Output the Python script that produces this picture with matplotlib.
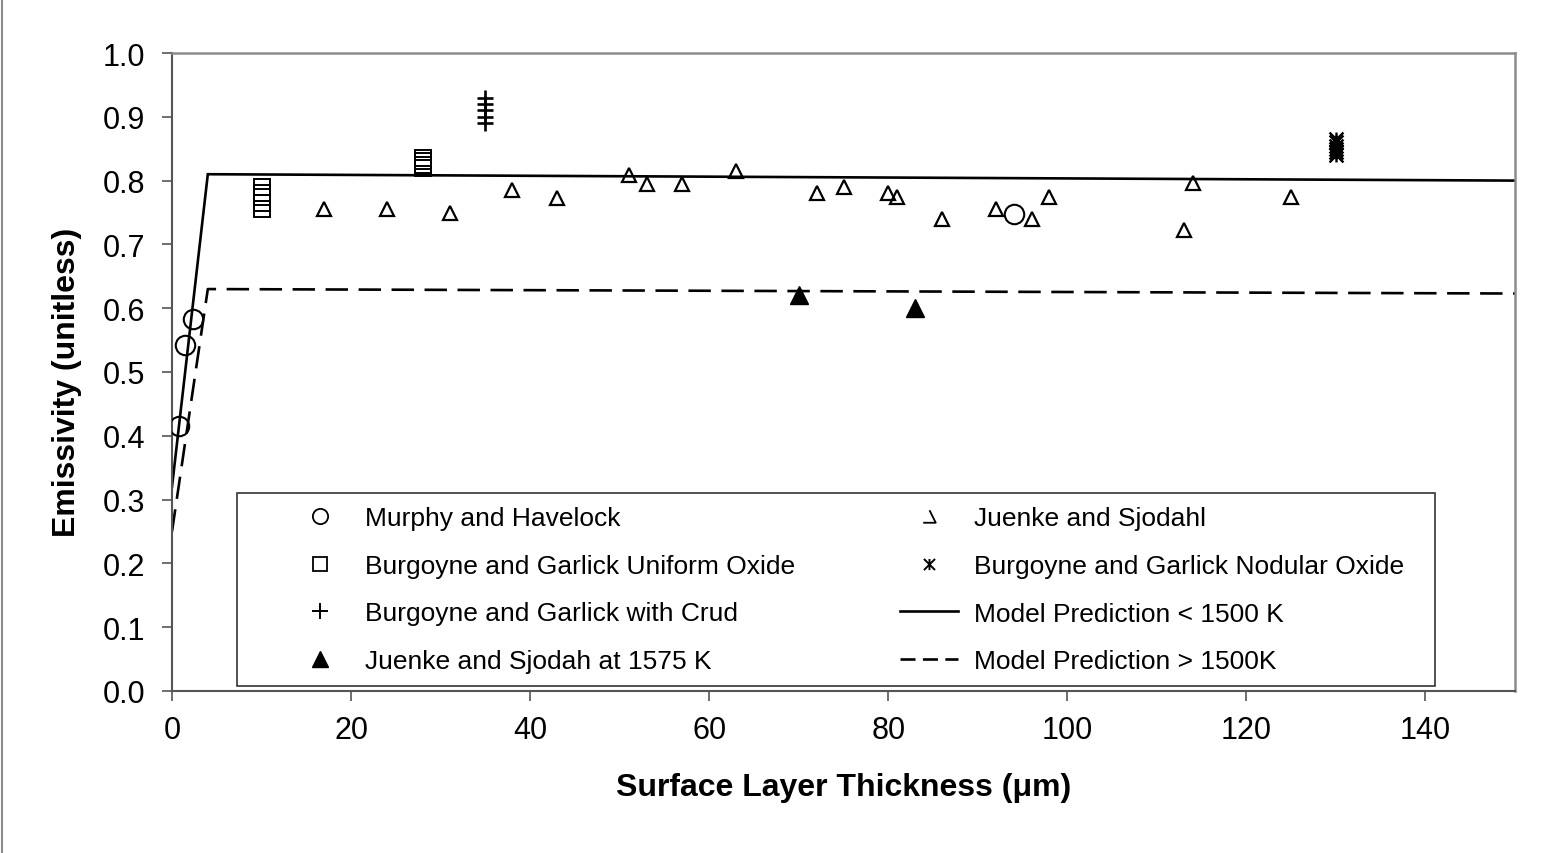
import matplotlib
matplotlib.use("Agg")
import matplotlib.pyplot as plt
from matplotlib.lines import Line2D
from matplotlib.patches import Rectangle
from matplotlib.path import Path

plt.rcParams['font.family'] = ['Liberation Sans', 'DejaVu Sans']

# ---- data -------------------------------------------------------------
murphy_x = [0.8, 1.5, 2.3, 94]
murphy_y = [0.415, 0.543, 0.583, 0.748]

juenke_x = [17, 24, 31, 38, 43, 51, 53, 57, 63, 72, 75, 80, 81, 86, 92, 96, 98, 113, 114, 125]
juenke_y = [0.755, 0.755, 0.750, 0.785, 0.773, 0.808, 0.795, 0.795, 0.815, 0.780,
            0.790, 0.780, 0.775, 0.740, 0.755, 0.740, 0.775, 0.722, 0.797, 0.775]

uniform_x = [10, 10, 10, 10, 10, 28, 28, 28, 28]
uniform_y = [0.755, 0.765, 0.775, 0.780, 0.790, 0.820, 0.825, 0.830, 0.835]

nodular_x = [130, 130, 130, 130, 130, 130]
nodular_y = [0.840, 0.845, 0.850, 0.855, 0.860, 0.865]

crud_x = [35, 35, 35, 35, 35]
crud_y = [0.890, 0.900, 0.910, 0.920, 0.930]

hot_x = [70, 83]
hot_y = [0.620, 0.600]

model_x = [0, 4, 150]
model_low_y = [0.32, 0.81, 0.80]
model_high_y = [0.25, 0.63, 0.623]

xticks = [0, 20, 40, 60, 80, 100, 120, 140]
yticks = [0.0, 0.1, 0.2, 0.3, 0.4, 0.5, 0.6, 0.7, 0.8, 0.9, 1.0]

# ---- markers ----------------------------------------------------------
star = Path([(0, -1), (0, 1), (-1, -1), (1, 1), (-1, 1), (1, -1)],
            [Path.MOVETO, Path.LINETO, Path.MOVETO, Path.LINETO, Path.MOVETO, Path.LINETO])
clipped_tri = Path([(0.0, 0.6), (0.6, -0.6), (-0.6, -0.6)],
                   [Path.MOVETO, Path.LINETO, Path.LINETO])

W, H = 1557, 854
fig = plt.figure(figsize=(W / 100, H / 100), dpi=100)
ax = fig.add_axes([172 / W, 1 - 692 / H, (1515 - 172) / W, (692 - 54) / H])

lw = 1.9
dash = (0, (8.5, 4))
ax.plot(model_x, model_low_y, color='black', lw=lw, solid_joinstyle='miter', zorder=2)
ax.plot(model_x, model_high_y, color='black', lw=lw, linestyle=dash, zorder=2)

ax.plot(juenke_x, juenke_y, ls='none', marker='^', ms=10.5, mfc='none', mec='black', mew=1.6, zorder=3)
ax.plot(murphy_x, murphy_y, ls='none', marker='o', ms=14, mfc='none', mec='black', mew=1.5, zorder=3)
ax.plot(uniform_x, uniform_y, ls='none', marker='s', ms=12, mfc='none', mec='black', mew=1.4, zorder=3)
ax.plot(crud_x, crud_y, ls='none', marker='+', ms=12, mec='black', mew=1.9, zorder=3)
ax.plot(nodular_x, nodular_y, ls='none', marker=star, ms=10, mec='black', mew=1.7, zorder=3)
ax.plot(hot_x, hot_y, ls='none', marker='^', ms=13, mfc='black', mec='black', zorder=3)

ax.set_xlim(0, 150)
ax.set_ylim(0, 1.0)
ax.set_xticks(xticks)
ax.set_yticks(yticks)
ax.set_yticklabels([f'{v:.1f}' for v in yticks])
ax.tick_params(axis='both', direction='out', length=7, width=1.2, color='#555555',
               labelsize=22, labelcolor='black')
ax.tick_params(axis='y', pad=12)
ax.tick_params(axis='x', pad=10)
for side in ('left', 'bottom'):
    ax.spines[side].set_color('#555555')
    ax.spines[side].set_linewidth(1.5)
for side in ('top', 'right'):
    ax.spines[side].set_color('#8c8c8c')
    ax.spines[side].set_linewidth(1.8)

fig.text(0.5 * (172 + 1515) / W, 1 - 788 / H, 'Surface Layer Thickness (\u03bcm)',
         fontsize=23, fontweight='bold', ha='center', va='center')
fig.text(67 / W, 1 - 382 / H, 'Emissivity (unitless)', fontsize=23, fontweight='bold',
         rotation=90, ha='center', va='center')

# legend frame
fig.patches.append(Rectangle((237 / W, 1 - 687 / H), (1435 - 237) / W, (687 - 494) / H,
                             transform=fig.transFigure, facecolor='white',
                             edgecolor='#333333', lw=1.2, zorder=1))

left_handles = [
    Line2D([], [], ls='none', marker='o', ms=11, mfc='none', mec='black', mew=1.3),
    Line2D([], [], ls='none', marker='s', ms=10.5, mfc='none', mec='black', mew=1.3),
    Line2D([], [], ls='none', marker='+', ms=12, mec='black', mew=1.4),
    Line2D([], [], ls='none', marker='^', ms=12, mfc='black', mec='black'),
]
left_labels = ['Murphy and Havelock', 'Burgoyne and Garlick Uniform Oxide',
               'Burgoyne and Garlick with Crud', 'Juenke and Sjodah at 1575 K']
right_handles = [
    Line2D([], [], ls='none', marker=clipped_tri, ms=9, mfc='none', mec='black', mew=1.3),
    Line2D([], [], ls='none', marker=star, ms=8, mec='black', mew=1.4),
    Line2D([], [], color='black', lw=lw),
    Line2D([], [], color='black', lw=lw, linestyle=(0, (5.7, 2.8))),
]
right_labels = ['Juenke and Sjodahl', 'Burgoyne and Garlick Nodular Oxide',
                'Model Prediction < 1500 K', 'Model Prediction > 1500K']

common = dict(loc='upper left', bbox_transform=fig.transFigure, frameon=False,
              borderpad=0, borderaxespad=0, fontsize=19, handlelength=2.2,
              handletextpad=0.6, labelspacing=0.9)
fig.legend(left_handles, left_labels, bbox_to_anchor=(291 / W, 1 - 507 / H), **common)
fig.legend(right_handles, right_labels, bbox_to_anchor=(900 / W, 1 - 507 / H), **common)

# outer border on the left edge of the chart area
fig.add_artist(Line2D([2 / W, 2 / W], [0, 1], transform=fig.transFigure,
                      color='#8c8c8c', lw=1.5))

fig.savefig('out.png', dpi=100)
